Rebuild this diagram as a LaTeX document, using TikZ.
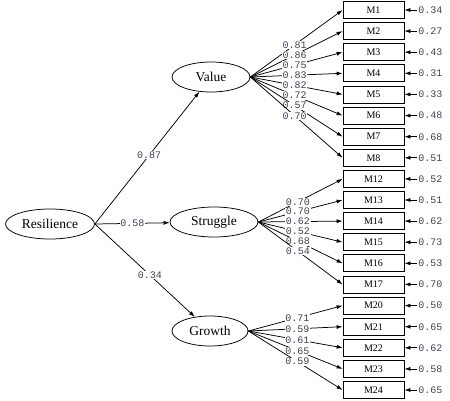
\documentclass[tikz,border=0pt]{standalone}
\usepackage{fontspec}
\setmainfont{Liberation Serif}
\setmonofont{Liberation Mono}
\usetikzlibrary{shapes.geometric,arrows.meta}
\definecolor{numcol}{RGB}{70,62,82}

\begin{document}
\begin{tikzpicture}[x=1pt,y=-1pt,line width=0.75pt,>={Latex[length=6pt,width=4pt]}]
		\tikzstyle{every node}+=[inner sep=0pt]
		\tikzstyle{latent}=[draw,ellipse,minimum height=30pt,font=\fontsize{13.5}{15}\selectfont]
		\tikzstyle{item}=[draw,rectangle,minimum width=61pt,minimum height=17pt,font=\fontsize{10}{12}\selectfont]
		\tikzstyle{coef}=[fill=white,inner sep=0.7pt,text=numcol,font=\ttfamily\fontsize{10}{11}\selectfont]
		\tikzstyle{err}=[anchor=west,inner sep=1pt,text=numcol,font=\ttfamily\fontsize{10}{11}\selectfont]
		\useasboundingbox (0,0) rectangle (450,400);
		% latent variables
		\node [latent,minimum width=89pt] (res) at (50,224) {Resilience};
		\node [latent,minimum width=78pt] (val) at (211,77) {Value};
		\node [latent,minimum width=88pt] (str) at (214,222) {Struggle};
		\node [latent,minimum width=76pt] (gro) at (210,331) {Growth};
		\draw [->] (res.east) -- (val) node [coef,pos=0.52] {0.87};
		\draw [->] (res.east) -- (str) node [coef,pos=0.5] {0.58};
		\draw [->] (res.east) -- (gro) node [coef,pos=0.55] {0.34};
		% Value items
		\node [item] (m1) at (373.5,10) {M1};
		\node [item] (m2) at (373.5,31.1) {M2};
		\node [item] (m3) at (373.5,52.2) {M3};
		\node [item] (m4) at (373.5,73.3) {M4};
		\node [item] (m5) at (373.5,94.4) {M5};
		\node [item] (m6) at (373.5,115.6) {M6};
		\node [item] (m7) at (373.5,136.7) {M7};
		\node [item] (m8) at (373.5,157.8) {M8};
		\draw [->] (val.east) -- (m1.west) node [coef,pos=0.48] {0.81};
		\draw [->] (val.east) -- (m2.west) node [coef,pos=0.48] {0.86};
		\draw [->] (val.east) -- (m3.west) node [coef,pos=0.48] {0.75};
		\draw [->] (val.east) -- (m4.west) node [coef,pos=0.48] {0.83};
		\draw [->] (val.east) -- (m5.west) node [coef,pos=0.48] {0.82};
		\draw [->] (val.east) -- (m6.west) node [coef,pos=0.48] {0.72};
		\draw [->] (val.east) -- (m7.west) node [coef,pos=0.48] {0.57};
		\draw [->] (val.east) -- (m8.west) node [coef,pos=0.48] {0.70};
		% Struggle items
		\node [item] (m12) at (373.5,178.9) {M12};
		\node [item] (m13) at (373.5,200) {M13};
		\node [item] (m14) at (373.5,221.1) {M14};
		\node [item] (m15) at (373.5,242.2) {M15};
		\node [item] (m16) at (373.5,263.3) {M16};
		\node [item] (m17) at (373.5,284.4) {M17};
		\draw [->] (str.east) -- (m12.west) node [coef,pos=0.47] {0.70};
		\draw [->] (str.east) -- (m13.west) node [coef,pos=0.47] {0.70};
		\draw [->] (str.east) -- (m14.west) node [coef,pos=0.47] {0.62};
		\draw [->] (str.east) -- (m15.west) node [coef,pos=0.47] {0.52};
		\draw [->] (str.east) -- (m16.west) node [coef,pos=0.47] {0.68};
		\draw [->] (str.east) -- (m17.west) node [coef,pos=0.47] {0.54};
		% Growth items
		\node [item] (m20) at (373.5,305.6) {M20};
		\node [item] (m21) at (373.5,326.7) {M21};
		\node [item] (m22) at (373.5,347.8) {M22};
		\node [item] (m23) at (373.5,368.9) {M23};
		\node [item] (m24) at (373.5,390) {M24};
		\draw [->] (gro.east) -- (m20.west) node [coef,pos=0.52] {0.71};
		\draw [->] (gro.east) -- (m21.west) node [coef,pos=0.52] {0.59};
		\draw [->] (gro.east) -- (m22.west) node [coef,pos=0.52] {0.61};
		\draw [->] (gro.east) -- (m23.west) node [coef,pos=0.52] {0.65};
		\draw [->] (gro.east) -- (m24.west) node [coef,pos=0.52] {0.59};
		% error terms
		\node [err] (e1) at (417,10) {0.34};
		\node [err] (e2) at (417,31.1) {0.27};
		\node [err] (e3) at (417,52.2) {0.43};
		\node [err] (e4) at (417,73.3) {0.31};
		\node [err] (e5) at (417,94.4) {0.33};
		\node [err] (e6) at (417,115.6) {0.48};
		\node [err] (e7) at (417,136.7) {0.68};
		\node [err] (e8) at (417,157.8) {0.51};
		\node [err] (e12) at (417,178.9) {0.52};
		\node [err] (e13) at (417,200) {0.51};
		\node [err] (e14) at (417,221.1) {0.62};
		\node [err] (e15) at (417,242.2) {0.73};
		\node [err] (e16) at (417,263.3) {0.53};
		\node [err] (e17) at (417,284.4) {0.70};
		\node [err] (e20) at (417,305.6) {0.50};
		\node [err] (e21) at (417,326.7) {0.65};
		\node [err] (e22) at (417,347.8) {0.62};
		\node [err] (e23) at (417,368.9) {0.58};
		\node [err] (e24) at (417,390) {0.65};
		\draw [->] (e1.west) -- (m1.east);
		\draw [->] (e2.west) -- (m2.east);
		\draw [->] (e3.west) -- (m3.east);
		\draw [->] (e4.west) -- (m4.east);
		\draw [->] (e5.west) -- (m5.east);
		\draw [->] (e6.west) -- (m6.east);
		\draw [->] (e7.west) -- (m7.east);
		\draw [->] (e8.west) -- (m8.east);
		\draw [->] (e12.west) -- (m12.east);
		\draw [->] (e13.west) -- (m13.east);
		\draw [->] (e14.west) -- (m14.east);
		\draw [->] (e15.west) -- (m15.east);
		\draw [->] (e16.west) -- (m16.east);
		\draw [->] (e17.west) -- (m17.east);
		\draw [->] (e20.west) -- (m20.east);
		\draw [->] (e21.west) -- (m21.east);
		\draw [->] (e22.west) -- (m22.east);
		\draw [->] (e23.west) -- (m23.east);
		\draw [->] (e24.west) -- (m24.east);
	\end{tikzpicture}
\end{document}
